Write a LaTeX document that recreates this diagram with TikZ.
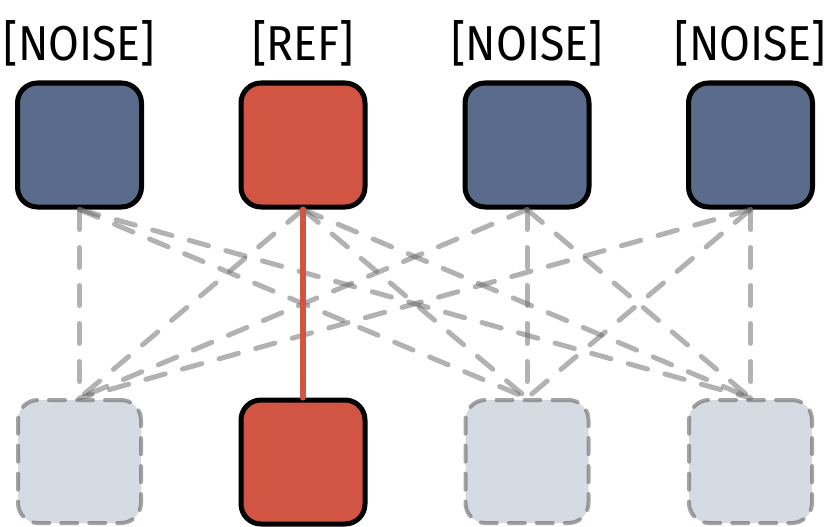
\documentclass[tikz,border=0pt]{standalone}
\usepackage{fontspec}
\setmainfont{Fira Sans}
\definecolor{noiseblue}{HTML}{5B6B8C}
\definecolor{refred}{HTML}{D25442}
\definecolor{ghostfill}{HTML}{D5DAE3}
\definecolor{edgegray}{HTML}{666666}
\tikzset{
  solidbox/.style={draw=black, line width=5pt, rounded corners=20pt, minimum size=124pt, inner sep=0pt},
  noisebox/.style={solidbox, fill=noiseblue},
  refbox/.style={solidbox, fill=refred},
  ghostbox/.style={fill=ghostfill, draw=edgegray, draw opacity=0.6, line width=4pt, rounded corners=20pt, minimum size=123pt, inner sep=0pt, dash pattern=on 16pt off 12pt, line cap=round},
  lab/.style={anchor=base, inner sep=0pt, font=\fontsize{49}{55}\selectfont},
  mixline/.style={draw=edgegray, draw opacity=0.5, line width=5pt, line cap=round, dash pattern=on 20pt off 18pt},
  refline/.style={draw=refred, line width=6pt, line cap=round}
}
\newcommand{\labtext}[1]{\scalebox{0.91}[1]{#1}}
\begin{document}
\begin{tikzpicture}[x=1pt,y=-1pt]
\useasboundingbox (0,0) rectangle (830,527);
% top boxes
\node[noisebox] (t1) at (79.5,145) {};
\node[refbox]   (t2) at (303,145) {};
\node[noisebox] (t3) at (527,145) {};
\node[noisebox] (t4) at (750.5,145) {};
% labels
\node[lab] (l1) at (79.5,60) {\labtext{[NOISE]}};
\node[lab] (l2) at (303,60) {\labtext{[REF]}};
\node[lab] (l3) at (527,60) {\labtext{[NOISE]}};
\node[lab] (l4) at (750.5,60) {\labtext{[NOISE]}};
% bottom boxes
\node[ghostbox] (b1) at (79.5,461.5) {};
\node[refbox]   (b2) at (303,462) {};
\node[ghostbox] (b3) at (527,461.5) {};
\node[ghostbox] (b4) at (750.5,461.5) {};
% connectors
\foreach \t in {t1,t2,t3,t4}{
  \foreach \b in {b1,b3,b4}{
    \draw[mixline] (\t.south) -- (\b.north);
  }
}
\draw[refline] (t2.south) -- (b2.north);
\end{tikzpicture}
\end{document}
